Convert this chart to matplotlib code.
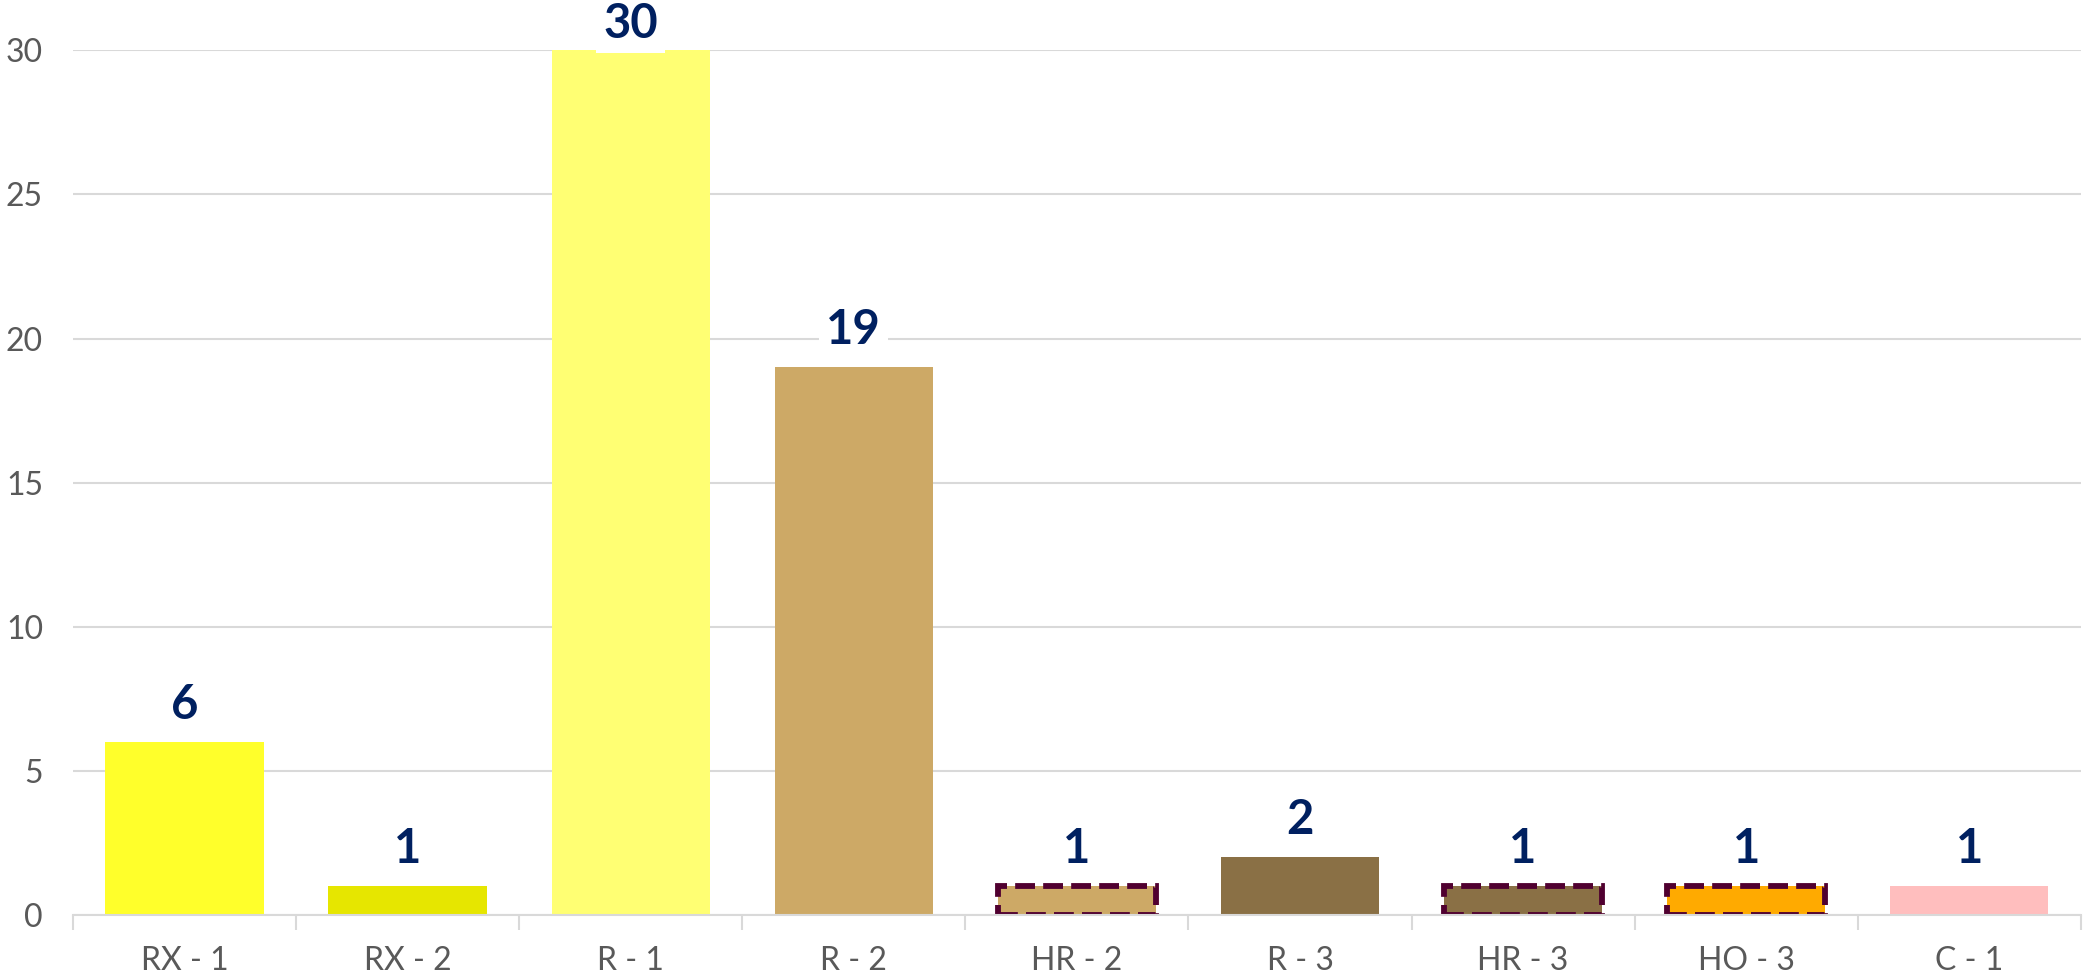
import matplotlib
matplotlib.use("Agg")
import matplotlib.pyplot as plt

plt.rcParams['font.family'] = ['Lato', 'DejaVu Sans']

categories = ["RX - 1", "RX - 2", "R - 1", "R - 2", "HR - 2", "R - 3", "HR - 3", "HO - 3", "C - 1"]
counts = [6, 1, 30, 19, 1, 2, 1, 1, 1]
colors = ["#FFFF2B", "#E6E600", "#FFFF73", "#CDA966", "#CDA966",
          "#8A7045", "#8A7045", "#FFAA00", "#FFBEBE"]
dashed = [False, False, False, False, True, False, True, True, False]

grey = "#595959"
grid = "#D9D9D9"
navy = "#002060"

fig = plt.figure(figsize=(20.85, 9.76), dpi=100)
ax = fig.add_axes([0.035, 0.0625, 0.963, 0.886])

x = list(range(len(categories)))
bars = ax.bar(x, counts, width=0.71, color=colors, zorder=3)
for b, d in zip(bars, dashed):
    if d:
        b.set_edgecolor("#500030")
        b.set_linestyle((0, (3.4, 1.4)))
        b.set_linewidth(4.2)

# value labels on white boxes; the tallest one is pulled down to stay inside
for xi, v in zip(x, counts):
    off = 3 if v == max(counts) else 11
    ax.annotate(str(v), (xi, v), xytext=(0, off), textcoords="offset points",
                ha="center", va="bottom", fontsize=34, fontweight="bold",
                color=navy, zorder=5, annotation_clip=False,
                bbox=dict(facecolor="white", edgecolor="none", pad=5))

ax.set_xlim(-0.5, len(categories) - 0.5)
ax.set_ylim(0, 30)
ax.set_yticks([0, 5, 10, 15, 20, 25, 30])
ax.yaxis.grid(True, color=grid, linewidth=1.5, zorder=0)
ax.set_axisbelow(True)

ax.set_xticks(x)
ax.set_xticklabels(categories)
ax.set_xticks([i - 0.5 for i in range(len(categories) + 1)], minor=True)
ax.tick_params(axis="x", which="major", length=0, pad=22, labelsize=23, labelcolor=grey)
ax.tick_params(axis="x", which="minor", length=11, width=1.5, color=grid)
ax.tick_params(axis="y", length=0, pad=21.5, labelsize=23, labelcolor=grey)

for s in ["top", "right", "left"]:
    ax.spines[s].set_visible(False)
ax.spines["bottom"].set_color(grid)
ax.spines["bottom"].set_linewidth(1.5)
ax.spines["bottom"].set_zorder(4)

fig.savefig("out.png", dpi=100, facecolor="white")
